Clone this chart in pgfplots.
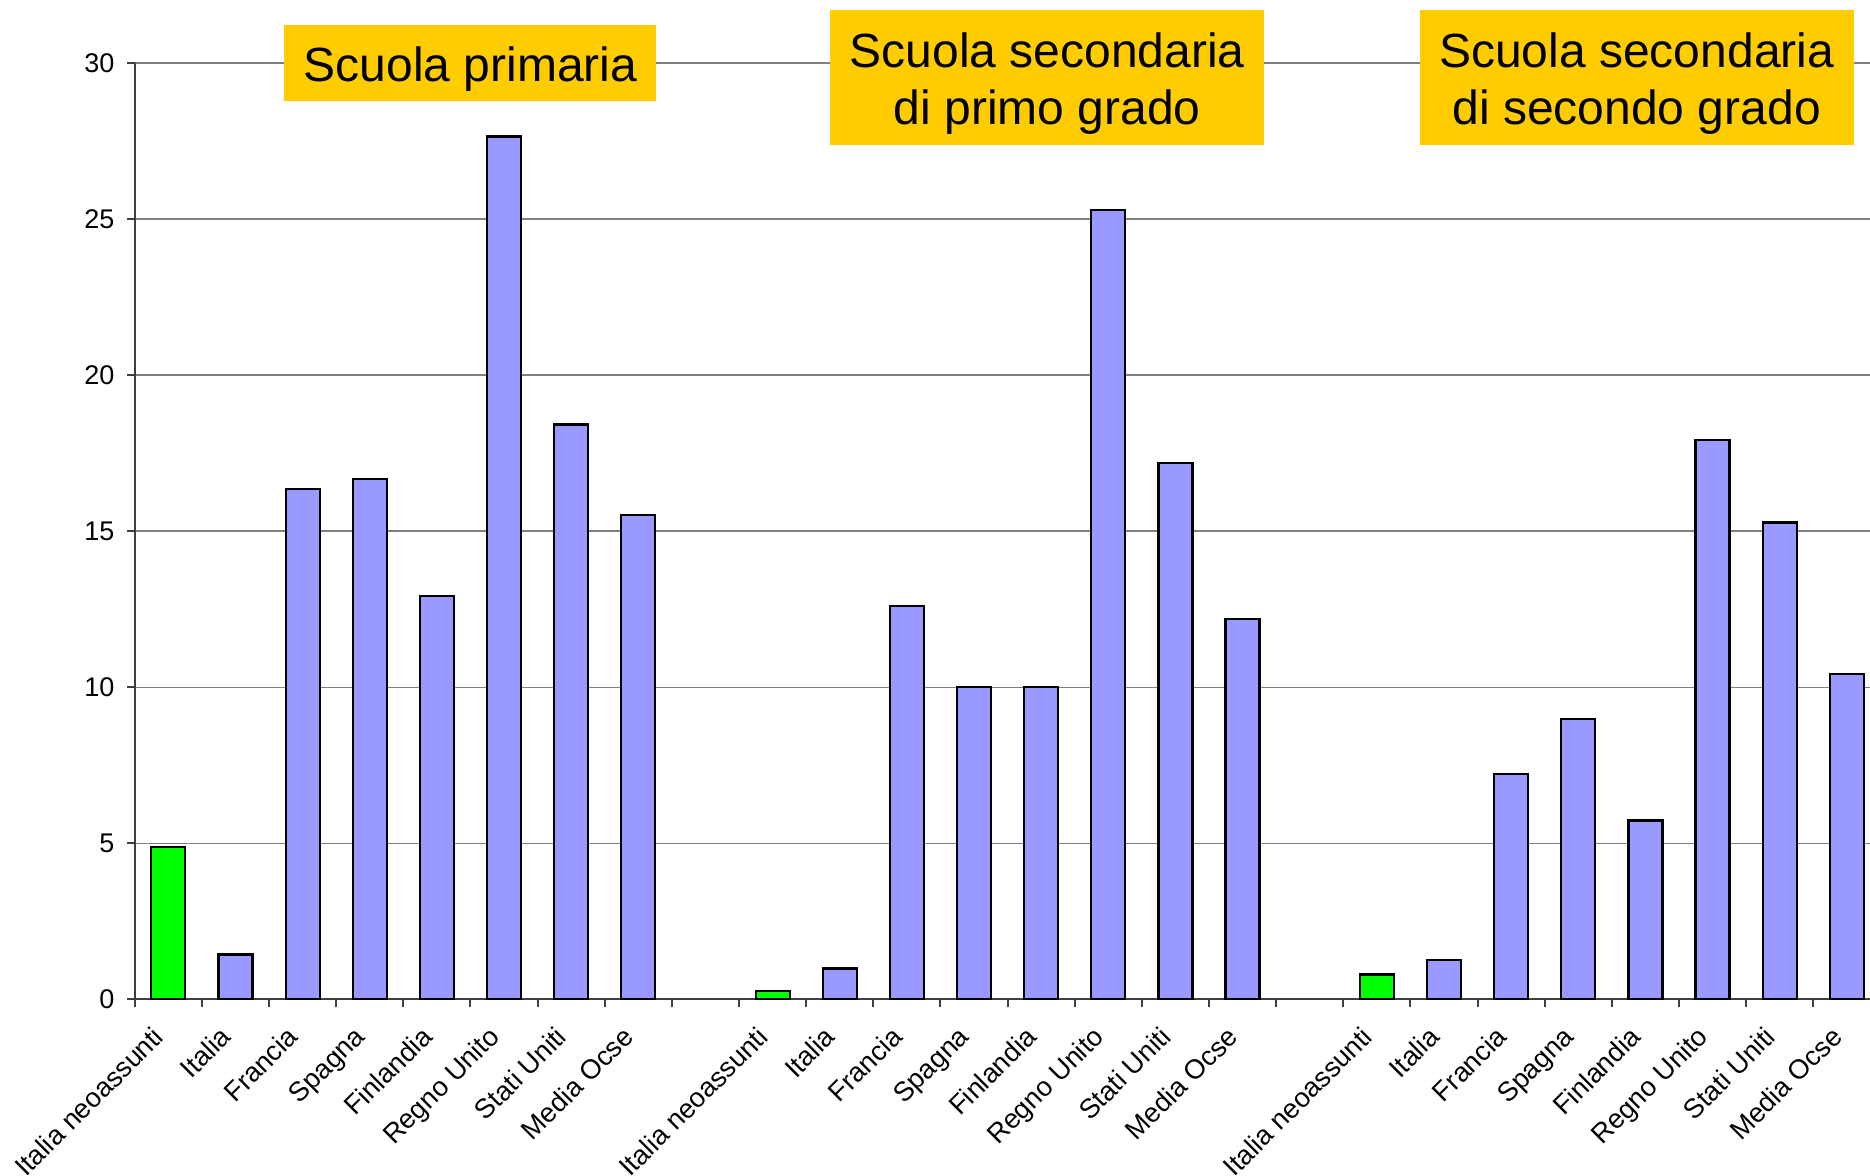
\documentclass[border=0pt]{standalone}
\usepackage{fontspec}
\setmainfont{Liberation Sans}
\usepackage{pgfplots}
\pgfplotsset{compat=1.18}
\definecolor{barblue}{HTML}{9999FF}
\definecolor{bargreen}{HTML}{00FF00}
\definecolor{titlebg}{HTML}{FFCC00}
\begin{document}
\begin{tikzpicture}
\begin{axis}[
  scale only axis, width=867.6pt, height=468.1pt,
  at={(0pt,0pt)}, anchor=south west,
  xmin=-0.5, xmax=25.345, ymin=0, ymax=30,
  axis x line*=bottom, axis y line*=left,
  axis line style={black!75, line width=1pt},
  ytick={0,5,...,30},
  ymajorgrids, grid style={black!50, line width=0.8pt},
  xtick={0,...,25},
  xticklabels={Italia neoassunti,Italia,Francia,Spagna,Finlandia,Regno Unito,Stati Uniti,Media Ocse,,Italia neoassunti,Italia,Francia,Spagna,Finlandia,Regno Unito,Stati Uniti,Media Ocse,,Italia neoassunti,Italia,Francia,Spagna,Finlandia,Regno Unito,Stati Uniti,Media Ocse},
  minor xtick={-0.5,0.5,...,24.5},
  major x tick style={draw=none},
  minor x tick style={black!75, line width=1pt},
  ytick style={black!75, line width=1pt},
  tick align=outside, major tick length=4pt, minor tick length=4pt,
  /pgf/number format/assume math mode=true,
  yticklabel style={font=\fontsize{13.5}{15}\selectfont, inner sep=0pt, xshift=-6pt},
  xticklabel style={font=\fontsize{13.6}{16}\selectfont, inner sep=0pt, xshift=-8.5pt, yshift=-8.5pt, rotate=45, anchor=north east},
  clip=false,
]
\addplot[ybar, bar width=17pt, bar shift=0pt, fill=barblue, draw=black, line width=1.1pt] coordinates {
 (1,1.44) (2,16.35) (3,16.67) (4,12.92) (5,27.65) (6,18.42) (7,15.52)
 (10,0.99) (11,12.61) (12,10.0) (13,10.0) (14,25.3) (15,17.2) (16,12.2)
 (19,1.26) (20,7.22) (21,8.98) (22,5.73) (23,17.92) (24,15.28) (25,10.43)
};
\addplot[ybar, bar width=17pt, bar shift=0pt, fill=bargreen, draw=black, line width=1.1pt] coordinates {
 (0,4.88) (9,0.28) (18,0.8)
};
\node[fill=titlebg, minimum width=186pt, minimum height=38.3pt, inner sep=0pt] at (axis cs:4.5,30) {};
\node[inner sep=0pt, font=\fontsize{24}{28.5}\selectfont, align=center, yshift=-3pt] at (axis cs:4.5,30) {Scuola primaria};
\node[fill=titlebg, minimum width=217pt, minimum height=67.5pt, inner sep=0pt] at (axis cs:13.09,29.54) {};
\node[inner sep=0pt, font=\fontsize{24}{28.5}\selectfont, align=center, yshift=-3pt] at (axis cs:13.09,29.54) {Scuola secondaria\\di primo grado};
\node[fill=titlebg, minimum width=217pt, minimum height=67.5pt, inner sep=0pt] at (axis cs:21.87,29.54) {};
\node[inner sep=0pt, font=\fontsize{24}{28.5}\selectfont, align=center, yshift=-3pt] at (axis cs:21.87,29.54) {Scuola secondaria\\di secondo grado};
\end{axis}
\pgfresetboundingbox
\path[use as bounding box] (-67.4pt,-88.3pt) rectangle (867.6pt,499.7pt);
\end{tikzpicture}
\end{document}
